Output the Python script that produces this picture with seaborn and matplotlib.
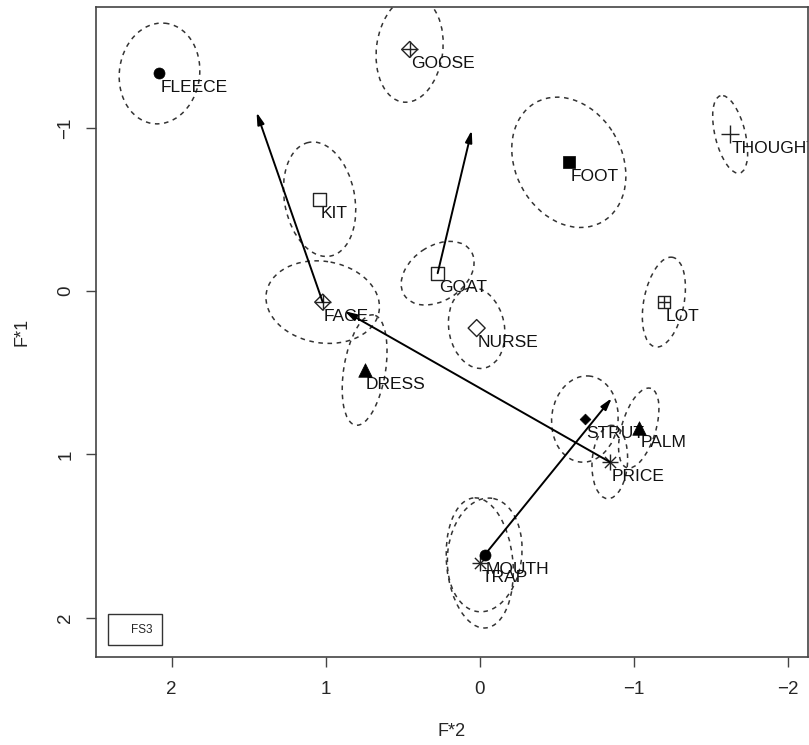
import matplotlib
matplotlib.use("Agg")
import matplotlib.pyplot as plt
from matplotlib.patches import Ellipse
from matplotlib.lines import Line2D
import pandas as pd
import seaborn as sns

# word positions (F*2 = x, F*1 = y), both axes reversed
words = ["FLEECE", "GOOSE", "KIT", "FOOT", "THOUGHT", "FACE", "GOAT", "DRESS",
         "NURSE", "LOT", "STRUT", "PALM", "PRICE", "MOUTH", "TRAP"]
f2 = [2.078, 0.455, 1.039, -0.578, -1.625, 1.019, 0.273, 0.747,
      0.02, -1.195, -0.682, -1.032, -0.844, -0.032, 0.0]
f1 = [-1.333, -1.48, -0.563, -0.789, -0.96, 0.067, -0.11, 0.483,
      0.226, 0.067, 0.783, 0.838, 1.046, 1.615, 1.664]
symbols = ["dot", "diamondplus", "square", "fsquare", "plus", "diamondplus",
           "square", "triangle", "diamond", "squareplus", "fdiamond",
           "triangle", "asterisk", "dot", "asterisk"]

# confidence ellipses: width, height (data units), tilt in degrees
ell_w = [0.52, 0.43, 0.455, 0.85, 0.195, 0.74, 0.51, 0.27,
         0.36, 0.26, 0.43, 0.22, 0.23, 0.48, 0.43]
ell_h = [0.62, 0.65, 0.71, 0.68, 0.49, 0.50, 0.34, 0.685,
         0.50, 0.56, 0.53, 0.51, 0.45, 0.70, 0.80]
ell_angle = [-10, -8, 12, -55, 15, -8, 30, -10,
             12, -12, -8, -18, -4, -8, 6]

# arrows from a word towards a target
arrow_from = ["FACE", "GOAT", "PRICE", "MOUTH"]
arrow_to_f2 = [1.448, 0.052, 0.877, -0.857]
arrow_to_f1 = [-1.095, -0.985, 0.122, 0.655]

df = pd.DataFrame({"word": words, "F2": f2, "F1": f1, "sym": symbols})

sns.set_style("white")
plt.rcParams["font.family"] = ["Liberation Sans", "DejaVu Sans"]

fig, ax = plt.subplots(figsize=(8.09, 7.45), dpi=100)
fig.subplots_adjust(left=96/809, right=808/809, bottom=1-657/745, top=1-7/745)

# marker layers for each symbol: (marker, size, face, edge, lw)
marker_layers = {
    "dot": [("o", 63, "black", "black", 0.5)],
    "square": [("s", 88, "none", "#222222", 1.0)],
    "fsquare": [("s", 72, "black", "black", 0.5)],
    "plus": [("+", 150, "#222222", "#222222", 1.0)],
    "diamondplus": [("D", 66, "none", "#222222", 1.0), ("+", 125, "#222222", "#222222", 1.0)],
    "triangle": [("^", 95, "black", "black", 0.5)],
    "diamond": [("D", 75, "none", "#222222", 1.0)],
    "squareplus": [("s", 70, "none", "#222222", 1.0), ("+", 70, "#222222", "#222222", 1.0)],
    "fdiamond": [("D", 30, "black", "black", 0.5)],
    "asterisk": [("+", 130, "#222222", "#222222", 1.0), ("x", 65, "#222222", "#222222", 1.0)],
}

for w, x, y, ew, eh, ang in zip(words, f2, f1, ell_w, ell_h, ell_angle):
    ax.add_patch(Ellipse((x, y), ew, eh, angle=ang, fill=False,
                         ls=(0, (3, 3)), lw=1.1, ec="#333333", zorder=1))

for w, x, y in zip(words, f2, f1):
    ax.annotate(w, (x, y), xytext=(1, -5), textcoords="offset points",
                ha="left", va="top", fontsize=12.5, color="#111111",
                clip_on=True, zorder=2)

for sym, sub in df.groupby("sym"):
    for mk, s, fc, ec, lw in marker_layers[sym]:
        if mk in ("+", "x"):
            sns.scatterplot(data=sub, x="F2", y="F1", marker=mk, s=s,
                            color=fc, linewidth=lw, ax=ax, zorder=3, legend=False)
        else:
            sns.scatterplot(data=sub, x="F2", y="F1", marker=mk, s=s,
                            facecolor=fc, edgecolor=ec, linewidth=lw,
                            ax=ax, zorder=3, legend=False)

for w, tx, ty in zip(arrow_from, arrow_to_f2, arrow_to_f1):
    i = words.index(w)
    ax.annotate("", xy=(tx, ty), xytext=(f2[i], f1[i]),
                arrowprops=dict(arrowstyle="-|>,head_length=0.7,head_width=0.2",
                                color="black", lw=1.4, shrinkA=0, shrinkB=0),
                zorder=4)

ax.set_xlim(2.49, -2.13)
ax.set_ylim(2.24, -1.74)
ax.set_xticks([2, 1, 0, -1, -2])
ax.set_yticks([-1, 0, 1, 2])
ax.tick_params(axis="both", direction="out", length=7.5, width=1,
               color="#444444", labelsize=13.5, left=True, bottom=True)
ax.tick_params(axis="x", pad=10)
ax.tick_params(axis="y", pad=8, labelrotation=90)
for lbl in ax.get_yticklabels():
    lbl.set_va("center")
for sp in ax.spines.values():
    sp.set_color("#444444")
    sp.set_linewidth(1.2)

ax.set_xlabel("F*2", fontsize=13)
ax.set_ylabel("F*1", fontsize=13)
ax.xaxis.label.set_va("center")
ax.yaxis.label.set_va("center")
ax.xaxis.set_label_coords(0.5, -0.114)
ax.yaxis.set_label_coords(-0.104, 0.5)

ax.legend(handles=[Line2D([], [], ls="none")], labels=["FS3"], loc="lower left",
          fontsize=8.5, frameon=True, fancybox=False, edgecolor="#333333",
          framealpha=1, borderpad=0.8, handlelength=0.6, handletextpad=0.6,
          borderaxespad=1.0)

fig.savefig("out.png", dpi=100)
